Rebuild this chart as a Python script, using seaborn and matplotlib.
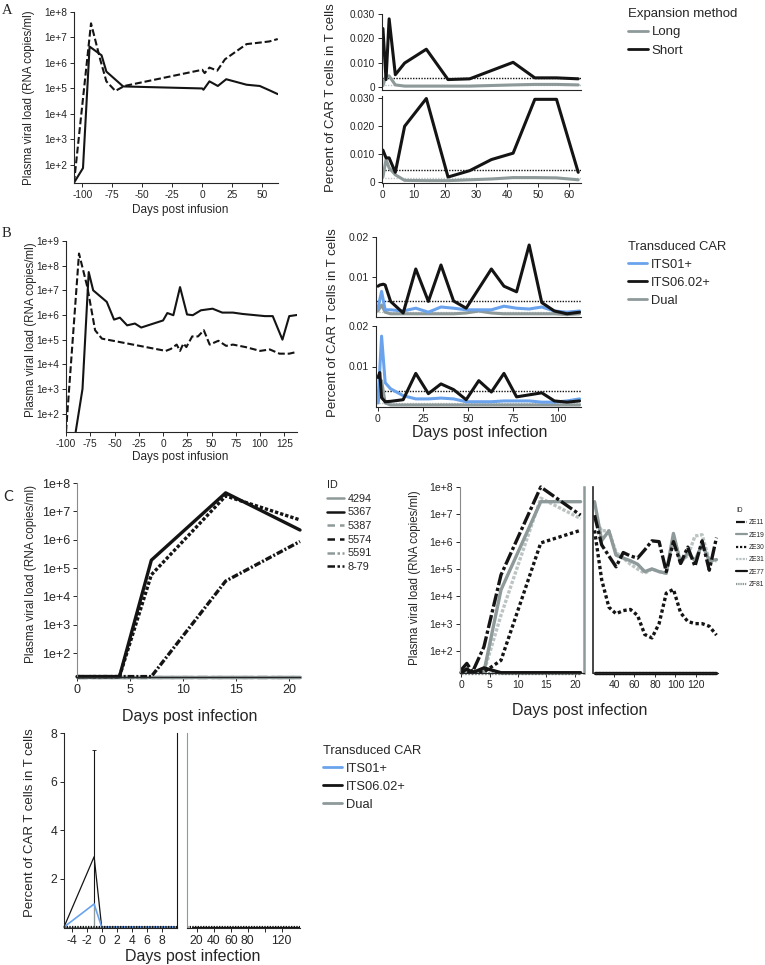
import matplotlib
matplotlib.use("Agg")
import matplotlib.pyplot as plt
from matplotlib.lines import Line2D
from matplotlib.ticker import FixedLocator, NullLocator
import seaborn as sns

sns.set_style("ticks")
plt.rcParams['font.family'] = ['Liberation Sans', 'DejaVu Sans']
plt.rcParams['axes.unicode_minus'] = False
plt.rcParams['axes.linewidth'] = 0.8
plt.rcParams['xtick.major.size'] = 3
plt.rcParams['ytick.major.size'] = 3
plt.rcParams['xtick.major.width'] = 0.7
plt.rcParams['ytick.major.width'] = 0.7
plt.rcParams['xtick.major.pad'] = 2
plt.rcParams['ytick.major.pad'] = 2

BLACK = '#141414'
GRAY = '#8e9999'
LGRAY = '#bcc3c3'
BLUE = '#6aa3ec'

# ---------------- data ----------------
# Panel A left: plasma viral load vs days post infusion
a_vl_days_solid = [-107, -99.5, -94, -84, -80, -66, 0, 1, 6, 13, 20, 37, 48, 56, 63]
a_vl_solid = [20, 75, 4.4e6, 2.0e6, 4.6e5, 1.2e5, 1.0e5, 8.9e4, 1.9e5, 1.25e5, 2.3e5, 1.4e5, 1.25e5, 8.5e4, 6.0e4]
a_vl_days_dashed = [-107, -92.8, -85, -80, -72.5, -65, 0, 2, 6, 12.5, 19, 29, 37, 48, 56, 63]
a_vl_dashed = [20, 3.6e7, 1.3e6, 1.9e5, 8.0e4, 1.25e5, 5.4e5, 4.0e5, 6.6e5, 5.0e5, 1.4e6, 3.0e6, 5.5e6, 6.3e6, 7.0e6, 8.7e6]
a_vl_xticks = [-100, -75, -50, -25, 0, 25, 50]

# Panel A right: percent CAR T cells (two animals)
a_car_days_top = [0, 1, 2, 4, 7, 14, 21, 28, 42, 49, 56, 63]
a_short_top = [0.024, 0.003, 0.028, 0.005, 0.0098, 0.0155, 0.003, 0.0033, 0.0101, 0.0037, 0.0037, 0.0033]
a_long_top = [0.0005, 0.0045, 0.0045, 0.0008, 0.0003, 0.0003, 0.0003, 0.0003, 0.0008, 0.001, 0.001, 0.0008]
a_car_days_bot = [0, 1, 2, 4, 7, 14, 21, 28, 35, 42, 49, 56, 63]
a_short_bot = [0.0114, 0.0086, 0.0086, 0.0034, 0.020, 0.030, 0.0017, 0.004, 0.008, 0.0103, 0.0297, 0.0297, 0.0034]
a_long_bot = [0.0017, 0.008, 0.005, 0.0025, 0.0005, 0.0004, 0.0004, 0.0007, 0.001, 0.0015, 0.0015, 0.0014, 0.0007]
a_lod_black = [0.0036, 0.0042]
a_lod_gray = [0.0008, 0.0012]
a_car_xticks = [0, 10, 20, 30, 40, 50, 60]
a_car_yticks = [0, 0.010, 0.020, 0.030]
a_car_yticklabels = ['0', '0.010', '0.020', '0.030']
a_legend_labels = ['Long', 'Short']

# Panel B left
b_vl_days_solid = [-90, -83, -76.6, -72, -58, -50.5, -44.5, -37, -29, -22.5, 0, 4.4, 10.6, 17.5, 24.7,
                   30.6, 39, 51, 61, 72, 82, 93, 105, 113, 123, 130, 138]
b_vl_solid = [18.5, 1.0e3, 5.5e7, 1.0e7, 3.4e6, 6.5e5, 7.8e5, 3.8e5, 4.5e5, 3.1e5, 6.0e5, 1.2e6, 9.8e5,
              1.35e7, 1.05e6, 9.8e5, 1.55e6, 1.8e6, 1.25e6, 1.25e6, 1.1e6, 1.0e6, 9.0e5, 9.0e5, 1.0e5, 9.0e5, 1.0e6]
b_vl_days_dashed = [-100, -86.6, -78, -70, -63, 2.8, 8, 14, 17.5, 21, 24, 30, 36, 42, 48, 57, 65, 72, 85,
                    100, 110, 120, 130, 138]
b_vl_dashed = [18.5, 3.1e8, 1.35e7, 2.4e5, 1.1e5, 3.5e4, 4.2e4, 6.3e4, 3.5e4, 7.0e4, 5.0e4, 1.35e5, 1.35e5,
               2.4e5, 6.3e4, 9.0e4, 5.6e4, 6.3e4, 5.0e4, 3.5e4, 4.0e4, 2.7e4, 2.7e4, 3.2e4]
b_vl_xticks = [-100, -75, -50, -25, 0, 25, 50, 75, 100, 125]

# Panel B right
b_days06_top = [0, 1, 3, 4, 7, 14, 21, 28, 35, 42, 49, 63, 70, 77, 84, 91, 98, 105, 112]
b_its06_top = [0.0077, 0.008, 0.0082, 0.008, 0.0039, 0.001, 0.012, 0.0039, 0.013, 0.004, 0.0022, 0.012,
               0.0077, 0.0063, 0.018, 0.0036, 0.0015, 0.0008, 0.0012]
b_days = [0, 2, 4, 7, 14, 21, 28, 35, 42, 49, 56, 63, 70, 77, 84, 91, 98, 105, 112]
b_its01_top = [0.0022, 0.0064, 0.0018, 0.0018, 0.0015, 0.0022, 0.0012, 0.0025, 0.0022, 0.0018, 0.0018,
               0.0018, 0.0027, 0.0022, 0.002, 0.0025, 0.0015, 0.0012, 0.0015]
b_dual_top = [0.0015, 0.003, 0.0012, 0.0008, 0.0008, 0.0008, 0.0008, 0.0008, 0.0008, 0.001, 0.0015, 0.001,
              0.0008, 0.0008, 0.0008, 0.0008, 0.0008, 0.0006, 0.0008]
b_its01_bot = [0.0012, 0.0175, 0.006, 0.0045, 0.0028, 0.002, 0.002, 0.0022, 0.002, 0.0013, 0.0013, 0.0013,
               0.0015, 0.0015, 0.0015, 0.0012, 0.0012, 0.0015, 0.002]
b_days06_bot = [0, 1, 2, 4, 7, 14, 21, 28, 35, 42, 49, 56, 63, 70, 77, 84, 91, 98, 105, 112]
b_its06_bot = [0.0073, 0.0085, 0.0023, 0.0013, 0.0014, 0.0018, 0.0083, 0.0033, 0.0057, 0.0043, 0.0018,
               0.0065, 0.0037, 0.0083, 0.0025, 0.003, 0.0035, 0.0015, 0.0012, 0.0015]
b_dual_bot = [0.001, 0.0065, 0.001, 0.0005, 0.0005, 0.0005, 0.0005, 0.0005, 0.0005, 0.0005, 0.0005, 0.0005,
              0.0005, 0.0005, 0.0005, 0.0005, 0.0005, 0.0005, 0.0005]
b_lod_black = [0.004, 0.004]
b_lod_gray = [0.0012, 0.001]
b_car_xticks = [0, 25, 50, 75, 100]
b_car_yticks = [0.01, 0.02]
car_labels = ['ITS01+', 'ITS06.02+', 'Dual']

# Panel C left (rhesus IDs)
c1_days = [0, 4, 7, 14, 21]
c1_ids = ['4294', '5367', '5387', '5574', '5591', '8-79']
c1_vl = {
    '4294': [15, 15, 15, 15, 15],
    '5387': [15, 15, 15, 15, 15],
    '5591': [15, 15, 15, 15, 15],
    '8-79': [15, 15, 15, 3.5e4, 8.7e5],
    '5574': [15, 15, 5.8e4, 3.5e7, 5.0e6],
    '5367': [15, 15, 1.9e5, 4.5e7, 2.2e6],
}
c1_xticks = [0, 5, 10, 15, 20]

# Panel C right (ZE IDs), early and late segments
c2_ids = ['ZE11', 'ZE19', 'ZE30', 'ZE31', 'ZE77', 'ZF81']
c2_days_early = [0, 1, 2, 4, 7, 14, 21]
c2_early = {
    'ZF81': [16, 16, 16, 16, 16, 16, 16],
    'ZE31': [17, 17, 17, 17, 2.0e3, 3.9e7, 7.0e6],
    'ZE19': [17, 17, 17, 17, 1.7e4, 2.9e7, 2.9e7],
    'ZE30': [17, 17, 17, 17, 45, 9.0e5, 2.6e6],
    'ZE77': [16, 22, 16, 24, 16, 16, 16],
    'ZE11': [20, 35, 17, 140, 6.0e4, 1.0e8, 9.3e6],
}
c2_days_late = [21, 28, 35, 42, 49, 56, 63, 70, 77, 84, 91, 98, 105, 112, 119, 126, 133, 140]
c2_late = {
    'ZF81': [16] * 18,
    'ZE31': [7.0e6, 2.5e6, 2.5e6, 4.0e5, 2.5e5, 1.5e5, 1.0e5, 7.0e4, 1.0e5, 8.0e4, 7.0e4, 1.5e6, 2.0e5,
             3.0e5, 1.6e6, 1.8e6, 2.0e5, 2.0e5],
    'ZE19': [2.9e7, 1.1e6, 2.5e6, 3.2e5, 2.5e5, 2.0e5, 1.5e5, 8.0e4, 1.0e5, 8.0e4, 7.0e4, 2.0e6, 1.6e5,
             4.0e5, 2.0e5, 8.0e5, 2.0e5, 2.2e5],
    'ZE30': [2.6e6, 4.0e4, 4.0e3, 2.3e3, 3.0e3, 3.3e3, 2.0e3, 4.0e2, 3.0e2, 1.0e3, 1.3e4, 1.8e4, 2.5e3,
             1.2e3, 1.0e3, 1.0e3, 8.0e2, 3.8e2],
    'ZE77': [16] * 18,
    'ZE11': [9.3e6, 7.6e5, 3.0e5, 1.2e5, 4.0e5, 3.0e5, 2.5e5, 5.0e5, 1.07e6, 1.0e6, 8.0e4, 1.0e6, 1.6e5,
             6.3e5, 1.26e5, 1.07e6, 9.0e4, 1.4e6],
}
c2_xticks_early = [0, 5, 10, 15, 20]
c2_xticks_late = [40, 60, 80, 100, 120]

# Panel D: percent CAR T cells
d_days_early = [-5, -1, 0, 2, 4, 6, 8, 10]
d_its01_early = [0, 0.95, 0, 0, 0, 0, 0, 0]
d_its06_early = [0, 2.9, 0, 0, 0, 0, 0, 0]
d_dual_early = [0, 0, 0, 0, 0, 0, 0, 0]
d_days_late = [14, 21, 28, 42, 56, 70, 84, 98, 112, 126, 140]
d_its_late = [0, 0, 0, 0, 0, 0, 0, 0, 0, 0, 0]
d_err_x = [-1]
d_err_mean06 = [2.9]
d_err_top06 = [7.3]
d_err_mean_dual = [0.0]
d_err_top_dual = [0.95]
d_yticks = [2, 4, 6, 8]
d_xticks_early = [-4, -2, 0, 2, 4, 6, 8]
d_xticks_late = [20, 40, 60, 80, 100, 120]
d_xticklabels_late = ['20', '40', '60', '80', '', '120']

# ---------------- figure ----------------
W, H = 765, 965
fig = plt.figure(figsize=(W / 100, H / 100), dpi=100)


def add_ax(l, t, r, b):
    return fig.add_axes([l / W, 1 - b / H, (r - l) / W, (b - t) / H])


def ftext(x, y, s, **kw):
    kw.setdefault('ha', 'center')
    kw.setdefault('va', 'center')
    return fig.text(x / W, 1 - y / H, s, **kw)


def line(ax, x, y, color, lw, ls='-', clip=True):
    sns.lineplot(x=x, y=y, ax=ax, color=color, linewidth=lw, linestyle=ls,
                 estimator=None, sort=False, legend=False, clip_on=clip)


def log_ticks(ax, lo, hi, fs):
    ax.yaxis.set_major_locator(FixedLocator([10.0 ** k for k in range(lo, hi + 1)]))
    ax.yaxis.set_minor_locator(NullLocator())
    ax.set_yticklabels([f'1e+{k}' for k in range(lo, hi + 1)], fontsize=fs)


def clean(ax, fs):
    sns.despine(ax=ax)
    ax.set_xlabel('')
    ax.set_ylabel('')
    ax.tick_params(labelsize=fs)


def car_legend(x, y, handles, labels, title, fs=9.3, ls=0.46, hl=1.5):
    fig.legend(handles=handles, labels=labels, title=title, loc='upper left',
               bbox_to_anchor=(x / W, 1 - y / H), frameon=False, fontsize=fs, title_fontsize=fs,
               handlelength=hl, handletextpad=0.3, labelspacing=ls, borderpad=0, borderaxespad=0,
               alignment='left')


DASH = (0, (3.3, 1.4))

# ---- A left ----
ax = add_ax(74, 12, 278, 183)
line(ax, a_vl_days_solid, a_vl_solid, BLACK, 1.5)
line(ax, a_vl_days_dashed, a_vl_dashed, BLACK, 1.5, DASH)
ax.set_yscale('log')
ax.set_xlim(-107, 63.2)
ax.set_ylim(19.5, 1e8)
clean(ax, 7.3)
log_ticks(ax, 2, 8, 7.3)
ax.set_xticks(a_vl_xticks)
ftext(29, 98, 'Plasma viral load (RNA copies/ml)', rotation=90, fontsize=8.3)
ftext(180, 210, 'Days post infusion', fontsize=8.5)

# ---- A right ----
for i, (t, b, days, sh, lo, ymin, ymax) in enumerate([
        (14, 90, a_car_days_top, a_short_top, a_long_top, -0.0013, 0.030),
        (96, 183, a_car_days_bot, a_short_bot, a_long_bot, -0.00045, 0.0309)]):
    ax = add_ax(382, t, 581, b)
    ax.axhline(a_lod_black[i], color=BLACK, lw=1.0, ls=(0, (1, 1)))
    ax.axhline(a_lod_gray[i], color=LGRAY, lw=1.0, ls=(0, (1, 1)))
    line(ax, days, lo, GRAY, 2.2)
    line(ax, days, sh, BLACK, 2.2)
    ax.set_xlim(-0.3, 63.9)
    ax.set_ylim(ymin, ymax)
    clean(ax, 7.2)
    ax.set_yticks(a_car_yticks)
    ax.set_yticklabels(a_car_yticklabels)
    ax.set_xticks(a_car_xticks)
    if i == 0:
        ax.tick_params(axis='x', length=0, labelbottom=False)
ftext(331, 98, 'Percent of CAR T cells in T cells', rotation=90, fontsize=9.5)

car_legend(628, 8, [Line2D([], [], color=GRAY, lw=2), Line2D([], [], color=BLACK, lw=2)],
           a_legend_labels, 'Expansion method', fs=9.5)

# ---- B left ----
ax = add_ax(66, 241, 297, 432)
line(ax, b_vl_days_solid, b_vl_solid, BLACK, 1.5)
line(ax, b_vl_days_dashed, b_vl_dashed, BLACK, 1.5, DASH)
ax.set_yscale('log')
ax.set_xlim(-100, 138)
ax.set_ylim(18, 1e9)
clean(ax, 7.3)
log_ticks(ax, 2, 9, 7.3)
ax.set_xticks(b_vl_xticks)
ftext(31, 330, 'Plasma viral load (RNA copies/ml)', rotation=90, fontsize=8.3)
ftext(180, 457, 'Days post infusion', fontsize=8.5)

# ---- B right ----
for i, (t, b) in enumerate([(237, 317), (326, 407)]):
    ax = add_ax(376, t, 581, b)
    ax.axhline(b_lod_black[i], color=BLACK, lw=1.0, ls=(0, (1, 1)))
    ax.axhline(b_lod_gray[i], color=LGRAY, lw=1.0, ls=(0, (1, 1)))
    if i == 0:
        line(ax, b_days, b_dual_top, GRAY, 2.2)
        line(ax, b_days, b_its01_top, BLUE, 2.2)
        line(ax, b_days06_top, b_its06_top, BLACK, 2.2)
    else:
        line(ax, b_days, b_dual_bot, GRAY, 2.2)
        line(ax, b_days, b_its01_bot, BLUE, 2.2)
        line(ax, b_days06_bot, b_its06_bot, BLACK, 2.2)
    ax.set_xlim(-1.1, 112.8)
    ax.set_ylim(0, 0.02)
    clean(ax, 7.5)
    ax.set_yticks(b_car_yticks)
    ax.set_yticklabels(['0.01', '0.02'])
    ax.set_xticks(b_car_xticks)
    if i == 0:
        ax.tick_params(axis='x', length=0, labelbottom=False)
ftext(333, 323, 'Percent of CAR T cells in T cells', rotation=90, fontsize=9.5)
ftext(480, 432, 'Days post infection', fontsize=11.5)

car_legend(628, 241, [Line2D([], [], color=BLUE, lw=2), Line2D([], [], color=BLACK, lw=2),
                      Line2D([], [], color=GRAY, lw=2)], car_labels, 'Transduced CAR')

# ---- C left ----
c1_styles = {'4294': (GRAY, '-'), '5367': (BLACK, '-'), '5387': (GRAY, (0, (3, 1.5))),
             '5574': (BLACK, (0, (1, 0.6))), '5591': (GRAY, (0, (3, 1, 1, 1))),
             '8-79': (BLACK, (0, (2, 0.6, 0.6, 0.6)))}
ax = add_ax(77, 483, 300, 677)
for k in c1_vl:
    col, ls = c1_styles[k]
    line(ax, c1_days, c1_vl[k], col, 2.4, ls, clip=False)
ax.set_yscale('log')
ax.set_xlim(0, 21)
ax.set_ylim(14.5, 1e8)
clean(ax, 9)
log_ticks(ax, 2, 8, 9)
ax.set_xticks(c1_xticks)
ax.spines['left'].set_color('#8a8a8a')
ftext(31, 574, 'Plasma viral load (RNA copies/ml)', rotation=90, fontsize=8.5)
ftext(190, 716, 'Days post infection', fontsize=11.5)
c1_leg_ls = {'4294': '-', '5367': '-', '5387': (0, (3, 2)), '5574': (0, (3, 2)),
             '5591': (0, (3, 1, 1, 1)), '8-79': (0, (3, 1, 1, 1))}
leg_c1 = [Line2D([], [], color=c1_styles[k][0], lw=1.8, ls=c1_leg_ls[k]) for k in c1_ids]
car_legend(327, 480, leg_c1, c1_ids, 'ID', fs=7.8, ls=0.34, hl=1.6)

# ---- C right ----
c2_styles = {'ZE11': (BLACK, (0, (4, 0.8, 1, 0.8))), 'ZE19': (GRAY, '-'),
             'ZE30': (BLACK, (0, (1, 0.8))), 'ZE31': (LGRAY, (0, (1, 0.5))),
             'ZE77': (BLACK, '-'), 'ZF81': (GRAY, (0, (0.6, 0.4)))}
axl = add_ax(460, 487, 584, 673)
axr = add_ax(593, 487, 718, 673)
for k in c2_early:
    col, ls = c2_styles[k]
    line(axl, c2_days_early, c2_early[k], col, 2.4, ls, clip=False)
    line(axr, c2_days_late, c2_late[k], col, 2.4, ls, clip=False)
for a in (axl, axr):
    a.set_yscale('log')
    a.set_ylim(15.6, 1e8)
axl.set_xlim(-0.2, 21.6)
axr.set_xlim(19.5, 141.5)
clean(axl, 7.5)
clean(axr, 7.5)
log_ticks(axl, 2, 8, 7.5)
axl.set_xticks(c2_xticks_early)
axr.set_xticks(c2_xticks_late)
axr.yaxis.set_major_locator(NullLocator())
axr.yaxis.set_minor_locator(NullLocator())
axl.spines['left'].set_color('#8a8a8a')
axl.spines['right'].set_visible(True)
axl.spines['right'].set_color(GRAY)
axl.spines['right'].set_linewidth(1.8)
axr.spines['left'].set_linewidth(1.2)
ftext(415, 578, 'Plasma viral load (RNA copies/ml)', rotation=90, fontsize=8.3)
ftext(580, 710, 'Days post infection', fontsize=11.5)
leg_c2 = [Line2D([], [], color=c2_styles[k][0], lw=1.6, ls=c2_styles[k][1]) for k in c2_ids]
car_legend(736, 507, leg_c2, c2_ids, 'ID', fs=4.8, ls=0.8, hl=1.6)

# ---- D ----
axl = add_ax(64, 733, 177, 928)
axr = add_ax(187, 733, 300, 928)
axl.errorbar(d_err_x, d_err_mean06, yerr=[d_err_mean06, [t - m for t, m in zip(d_err_top06, d_err_mean06)]],
             fmt='none', ecolor=BLACK, elinewidth=0.8, capsize=1.5, capthick=0.6)
axl.errorbar(d_err_x, d_err_mean_dual, yerr=[[0], [t - m for t, m in zip(d_err_top_dual, d_err_mean_dual)]],
             fmt='none', ecolor=GRAY, elinewidth=0.8, capsize=0)
line(axl, d_days_early, d_dual_early, GRAY, 1.0, clip=False)
line(axl, d_days_early, d_its06_early, BLACK, 0.9, clip=False)
line(axl, d_days_early, d_its01_early, BLUE, 1.2, clip=False)
line(axr, d_days_late, d_its_late, GRAY, 1.0, clip=False)
line(axr, d_days_late, d_its_late, BLACK, 0.9, clip=False)
for a in (axl, axr):
    a.axhline(0, color=BLACK, lw=1.6, ls=(0, (0.6, 0.6)))
    a.set_ylim(-0.04, 8)
axl.set_xlim(-5, 10)
axr.set_xlim(8.6, 141.5)
clean(axl, 8.8)
clean(axr, 8.8)
axl.set_yticks(d_yticks)
axl.set_xticks(d_xticks_early)
axr.set_xticks(d_xticks_late)
axr.set_xticklabels(d_xticklabels_late)
axr.yaxis.set_major_locator(NullLocator())
axl.spines['right'].set_visible(True)
axl.spines['right'].set_color(BLACK)
axr.spines['left'].set_color(GRAY)
ftext(30, 823, 'Percent of CAR T cells in T cells', rotation=90, fontsize=9.5)
ftext(193, 956, 'Days post infection', fontsize=11.5)
car_legend(323, 745, [Line2D([], [], color=BLUE, lw=2), Line2D([], [], color=BLACK, lw=2),
                      Line2D([], [], color=GRAY, lw=2)], car_labels, 'Transduced CAR')

# panel letters
ftext(2, 4, 'A', ha='left', va='top', fontsize=10.5, family=['Liberation Serif', 'DejaVu Serif'])
ftext(2, 227, 'B', ha='left', va='top', fontsize=10.5, family=['Liberation Serif', 'DejaVu Serif'])
ftext(3, 490, 'C', ha='left', va='top', fontsize=10.5, family=['Lato', 'DejaVu Sans'])

fig.savefig('out.png', dpi=100)
